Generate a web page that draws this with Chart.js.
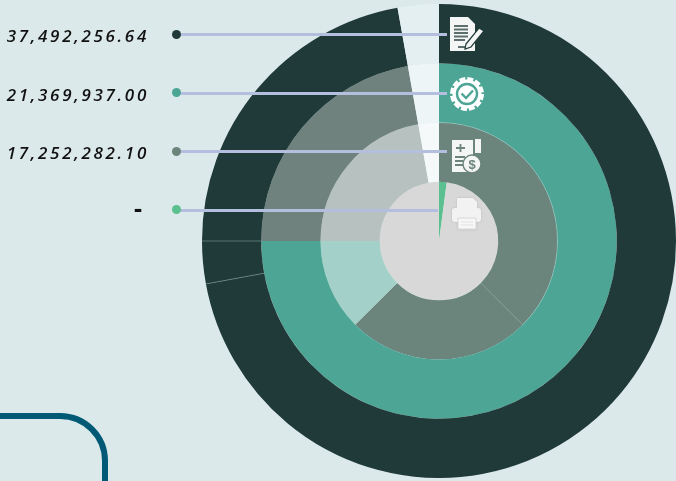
<!DOCTYPE html>
<html>
<head>
<meta charset="utf-8">
<script src="https://cdn.jsdelivr.net/npm/chart.js@4"></script>
<style>
html, body { margin: 0; padding: 0; }
body { width: 676px; height: 481px; overflow: hidden; position: relative; background: #dce9ea; }
#chart { position: absolute; left: 202px; top: 4px; }
.val { position: absolute; width: 149px; left: 0; text-align: right; color: #111; font: italic 600 17px "Open Sans", sans-serif; letter-spacing: 2.7px; line-height: 20px; }
.val.dash { width: 142px; font: 700 25px "Open Sans", sans-serif; letter-spacing: 0; margin-top: -12px; }
.dot { position: absolute; width: 9px; height: 9px; border-radius: 50%; left: 172px; }
.lead { position: absolute; height: 3px; left: 176px; background: #b4bedf; }
.icon { position: absolute; }
#corner { position: absolute; left: -20px; top: 413px; width: 116px; height: 120px; border: 6px solid #005a75; border-top-right-radius: 48px; box-sizing: content-box; }
</style>
</head>
<body>
<div id="corner"></div>
<canvas id="chart" width="474" height="474"></canvas>

<svg class="icon" style="left:449px;top:16px" width="36" height="36" viewBox="0 0 36 36">
  <path d="M1 1H19L26 8V35H1Z" fill="#f4f6f5"/>
  <path d="M5 10H19M5 13.5H19M5 17H19M5 20.5H19M5 24H16" stroke="#5d6f6c" stroke-width="2.2"/>
  <path d="M9 31H20" stroke="#5d6f6c" stroke-width="2"/>
  <path d="M17 28L30 12L35 15L22 31L16 33Z" fill="#f4f6f5" stroke="#1f3a38" stroke-width="1.2"/>
</svg>
<svg class="icon" style="left:449px;top:76px" width="36" height="36" viewBox="0 0 36 36">
  <circle cx="18" cy="18" r="14.5" fill="#fff"/>
  <circle cx="18" cy="18" r="15.5" fill="none" stroke="#fff" stroke-width="3" stroke-dasharray="6 2.1"/>
  <circle cx="18" cy="18" r="10" fill="none" stroke="#4ca595" stroke-width="2.4"/>
  <path d="M12.5 17.5L17 22L24 14.5" fill="none" stroke="#4ca595" stroke-width="2.4"/>
</svg>
<svg class="icon" style="left:451px;top:138px" width="32" height="36" viewBox="0 0 32 36">
  <path d="M1 2H22V34H1Z" fill="#f4f6f5"/>
  <rect x="24" y="1" width="6" height="14" fill="#f4f6f5"/>
  <path d="M5 10H14M9.5 6V14M4 19H14M4 23H12M4 27H12" stroke="#6b847c" stroke-width="1.8"/>
  <circle cx="21" cy="26" r="9" fill="#f4f6f5" stroke="#6b847c" stroke-width="1.4"/>
  <text x="21" y="31" font-family="Liberation Sans" font-weight="bold" font-size="13" text-anchor="middle" fill="#6b847c">$</text>
</svg>
<svg class="icon" style="left:451px;top:197px;filter:drop-shadow(0 0 1px #bbb)" width="32" height="34" viewBox="0 0 32 34">
  <path d="M6 1H22L26 5V12H6Z" fill="#f2f2f2"/>
  <rect x="1" y="11" width="29" height="14" rx="3" fill="#f2f2f2"/>
  <path d="M7 21H25V32H7Z" fill="#f7f7f7" stroke="#d8d8d8" stroke-width="1"/>
  <path d="M10 25H22M10 28H22" stroke="#e2e2e2" stroke-width="1.2"/>
</svg>

<script>
// text column on the left
const valueLabels = ["37,492,256.64", "21,369,937.00", "17,252,282.10", "-"];
const dotColors = ["#1f3a38", "#4ca595", "#6b847c", "#5ac08f"];
const rowY = [34, 92.5, 151, 209.5];
const leadEnd = [447, 447, 447, 438];

// rings, outer to inner, share of the full circle in percent
const outerValues = [72.1, 2.9, 22.2, 2.8];
const outerColors = ["#1f3a38", "#1f3a38", "#1f3a38", "#e4eff1"];
const secondValues = [75, 22.2, 2.8];
const secondColors = ["#4ca595", "#6f827e", "#eef5f6"];
const thirdValues = [37.5, 25, 12.5, 22.2, 2.8];
const thirdColors = ["#6b847c", "#6b847c", "#a3d0c8", "#b7c2c0", "#f5f9fa"];
const innerValues = [2.1, 97.9];
const innerColors = ["#5ac08f", "#d8d8d8"];

valueLabels.forEach((text, i) => {
    const lead = document.createElement("div");
    lead.className = "lead";
    lead.style.top = (rowY[i] - 1) + "px";
    lead.style.width = (leadEnd[i] - 176) + "px";
    document.body.appendChild(lead);

    const dot = document.createElement("div");
    dot.className = "dot";
    dot.style.top = (rowY[i] - 4.5) + "px";
    dot.style.background = dotColors[i];
    document.body.appendChild(dot);

    const val = document.createElement("div");
    val.className = text === "-" ? "val dash" : "val";
    val.style.top = (rowY[i] - 8) + "px";
    val.innerText = text;
    document.body.appendChild(val);
});

// thin lines between some segments, taken from the arc elements
const seams = {
    id: "seams",
    afterDatasetsDraw(chart) {
        const ctx = chart.ctx;
        ctx.save();
        ctx.lineWidth = 0.7;
        ctx.strokeStyle = "#6f9189";
        [0, 1].forEach(i => {
            const a = chart.getDatasetMeta(0).data[i];
            ctx.beginPath();
            ctx.moveTo(a.x + Math.cos(a.endAngle) * a.innerRadius, a.y + Math.sin(a.endAngle) * a.innerRadius);
            ctx.lineTo(a.x + Math.cos(a.endAngle) * a.outerRadius, a.y + Math.sin(a.endAngle) * a.outerRadius);
            ctx.stroke();
        });
        // light edge on the first segment of the third ring
        const b = chart.getDatasetMeta(2).data[0];
        ctx.lineWidth = 0.5;
        ctx.strokeStyle = "#a9cfc8";
        ctx.beginPath();
        ctx.arc(b.x, b.y, b.outerRadius, b.startAngle, b.endAngle);
        ctx.stroke();
        ctx.restore();
    }
};

new Chart(document.getElementById("chart"), {
    type: "doughnut",
    data: {
        datasets: [
            { data: outerValues, backgroundColor: outerColors },
            { data: secondValues, backgroundColor: secondColors },
            { data: thirdValues, backgroundColor: thirdColors },
            { data: innerValues, backgroundColor: innerColors }
        ]
    },
    options: {
        responsive: false,
        animation: false,
        cutout: 0,
        elements: { arc: { borderWidth: 0 } },
        plugins: {
            legend: { display: false },
            tooltip: { enabled: false }
        }
    },
    plugins: [seams]
});
</script>
</body>
</html>
